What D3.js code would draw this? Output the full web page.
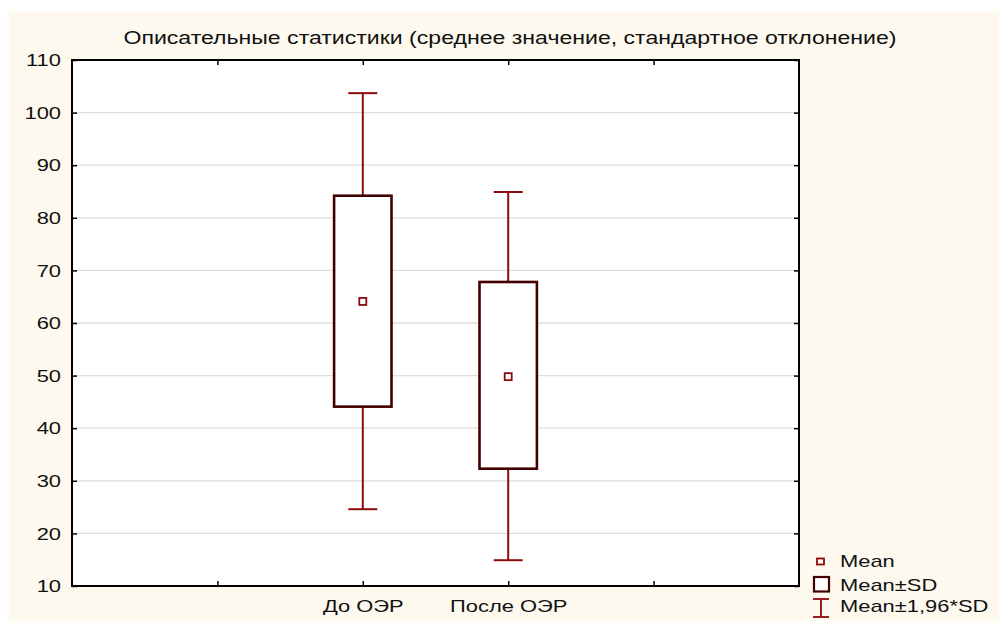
<!DOCTYPE html>
<html>
<head>
<meta charset="utf-8">
<script src="https://cdn.jsdelivr.net/npm/d3@7"></script>
<style>
  html, body { margin: 0; padding: 0; background: #ffffff; }
  svg { display: block; }
  text { font-family: "Liberation Sans", Arial, sans-serif; fill: #111; }
</style>
</head>
<body>
<script>
// ---- data ----
const categories = ["До ОЭР", "После ОЭР"];
const meanValues = [64.1, 49.8];
const sdLow      = [44.1, 32.3];
const sdHigh     = [84.2, 67.8];
const ciLow      = [24.6, 14.9];
const ciHigh     = [103.7, 84.9];
const yTicks = [10, 20, 30, 40, 50, 60, 70, 80, 90, 100, 110];
const gridValues = [20, 30, 40, 50, 60, 70, 80, 90, 100];
const xTickSlots = [1, 2, 3, 4];
const categorySlots = [2, 3];
const legendLabels = ["Mean", "Mean±SD", "Mean±1,96*SD"];
const titleText = "Описательные статистики (среднее значение, стандартное отклонение)";

(function () {
// ---- layout ----
const W = 999, H = 621;
const pL = 72, pR = 799, pT = 60, pB = 586;
const SX = 1.37; // horizontal text stretch seen in the reference
const boxColor = "#420000";
const whiskerColor = "#8e0a0a";
const cream = "#fdf9ef";

const svg = d3.select("body").append("svg").attr("width", W).attr("height", H);
svg.append("rect").attr("width", W).attr("height", H).attr("fill", "#fff");
svg.append("rect").attr("x", 9).attr("y", 12).attr("width", W - 9).attr("height", H - 12).attr("fill", cream);

const x = d3.scaleLinear().domain([0, 5]).range([pL, pR]);
const y = d3.scaleLinear().domain([10, 110]).range([pB, pT]);

// plot background
svg.append("rect").attr("x", pL).attr("y", pT).attr("width", pR - pL).attr("height", pB - pT).attr("fill", "#fff");

// gridlines
svg.append("g").selectAll("line").data(gridValues).join("line")
  .attr("x1", pL).attr("x2", pR)
  .attr("y1", d => y(d)).attr("y2", d => y(d))
  .attr("stroke", "#dedede").attr("stroke-width", 1.3);

function stretch(sel, tx) {
  sel.each(function () {
    d3.select(this).attr("transform", `translate(${tx},0) scale(${SX},1)`).attr("x", 0);
  });
}

// axes
const gl = svg.append("g").attr("transform", `translate(${pL},0)`)
  .call(d3.axisLeft(y).tickValues(yTicks).tickSize(-5).tickFormat(d3.format("d")));
gl.select(".domain").remove();
gl.selectAll("line").attr("stroke", "#000").attr("stroke-width", 1.5);
gl.selectAll("text").attr("font-size", 16).attr("dy", "0.36em").attr("fill", "#111")
  .style("font-family", '"Liberation Sans", Arial, sans-serif');
stretch(gl.selectAll("text"), -11);

const gr = svg.append("g").attr("transform", `translate(${pR},0)`)
  .call(d3.axisRight(y).tickValues(yTicks).tickSize(-5).tickFormat(""));
gr.select(".domain").remove();
gr.selectAll("line").attr("stroke", "#000").attr("stroke-width", 1.5);

const gt = svg.append("g").attr("transform", `translate(0,${pT})`)
  .call(d3.axisTop(x).tickValues(xTickSlots).tickSize(-5).tickFormat(""));
gt.select(".domain").remove();
gt.selectAll("line").attr("stroke", "#000").attr("stroke-width", 1.5);

const gb = svg.append("g").attr("transform", `translate(0,${pB})`)
  .call(d3.axisBottom(x).tickValues(xTickSlots).tickSize(-5)
    .tickFormat(d => { const i = categorySlots.indexOf(d); return i >= 0 ? categories[i] : ""; }));
gb.select(".domain").remove();
gb.selectAll("line").attr("stroke", "#000").attr("stroke-width", 1.5);
gb.selectAll("text").attr("font-size", 16).attr("y", 26).attr("dy", 0).attr("fill", "#111")
  .style("font-family", '"Liberation Sans", Arial, sans-serif');
stretch(gb.selectAll("text"), 0);

// frame
svg.append("rect").attr("x", pL).attr("y", pT).attr("width", pR - pL).attr("height", pB - pT)
  .attr("fill", "none").attr("stroke", "#000").attr("stroke-width", 2);

// boxes & whiskers
const boxW = x(1) - x(0) - 88;   // ~57px
const capW = 29;
const g = svg.append("g");
categories.forEach((c, i) => {
  const cx = x(categorySlots[i]);
  g.append("line").attr("x1", cx).attr("x2", cx).attr("y1", y(ciHigh[i])).attr("y2", y(sdHigh[i]))
    .attr("stroke", whiskerColor).attr("stroke-width", 2);
  g.append("line").attr("x1", cx).attr("x2", cx).attr("y1", y(sdLow[i])).attr("y2", y(ciLow[i]))
    .attr("stroke", whiskerColor).attr("stroke-width", 2);
  g.append("line").attr("x1", cx - capW / 2).attr("x2", cx + capW / 2).attr("y1", y(ciHigh[i])).attr("y2", y(ciHigh[i]))
    .attr("stroke", whiskerColor).attr("stroke-width", 2);
  g.append("line").attr("x1", cx - capW / 2).attr("x2", cx + capW / 2).attr("y1", y(ciLow[i])).attr("y2", y(ciLow[i]))
    .attr("stroke", whiskerColor).attr("stroke-width", 2);
  g.append("rect").attr("x", cx - boxW / 2).attr("y", y(sdHigh[i]))
    .attr("width", boxW).attr("height", y(sdLow[i]) - y(sdHigh[i]))
    .attr("fill", "#fff").attr("stroke", boxColor).attr("stroke-width", 2.6);
  g.append("rect").attr("x", cx - 3.5).attr("y", y(meanValues[i]) - 3.5).attr("width", 7).attr("height", 7)
    .attr("fill", "#fff").attr("stroke", whiskerColor).attr("stroke-width", 1.8);
});

// title
svg.append("text").attr("x", 510).attr("y", 44).attr("text-anchor", "middle")
  .attr("font-size", 17.5).attr("textLength", 773).attr("lengthAdjust", "spacingAndGlyphs")
  .text(titleText);

// legend
const lg = svg.append("g");
lg.append("rect").attr("x", 817).attr("y", 558.5).attr("width", 7).attr("height", 6)
  .attr("fill", "#fff").attr("stroke", whiskerColor).attr("stroke-width", 1.8);
lg.append("rect").attr("x", 814).attr("y", 577).attr("width", 15).attr("height", 14.5)
  .attr("fill", "#fff").attr("stroke", boxColor).attr("stroke-width", 2.2);
lg.append("line").attr("x1", 813).attr("x2", 829).attr("y1", 599).attr("y2", 599).attr("stroke", whiskerColor).attr("stroke-width", 1.8);
lg.append("line").attr("x1", 813).attr("x2", 829).attr("y1", 617).attr("y2", 617).attr("stroke", whiskerColor).attr("stroke-width", 1.8);
lg.append("line").attr("x1", 821).attr("x2", 821).attr("y1", 599).attr("y2", 617).attr("stroke", whiskerColor).attr("stroke-width", 1.8);
const baselines = [567, 591, 612];
lg.selectAll("text.leg").data(legendLabels).join("text").attr("class", "leg")
  .attr("font-size", 16)
  .attr("transform", (d, i) => `translate(840,${baselines[i]}) scale(${SX},1)`)
  .text(d => d);
})();
</script>
</body>
</html>
